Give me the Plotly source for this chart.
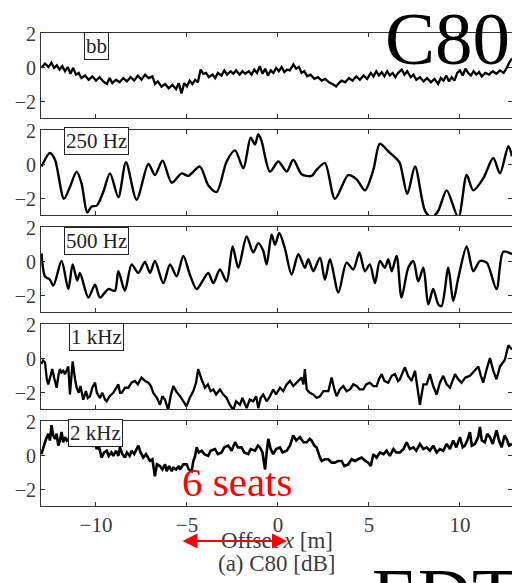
import plotly.graph_objects as go

# ---------------- data ----------------
bb_points = [(-13.0, 0.0), (-12.8, 0.25), (-12.6, 0.05), (-12.45, 0.3), (-12.3, 0.0), (-12.15, 0.15), (-12.0, -0.1), (-11.85, 0.1), (-11.7, -0.2), (-11.55, 0.05),
             (-11.4, -0.35), (-11.25, 0.0), (-11.1, -0.4), (-10.95, -0.3), (-10.8, -0.6), (-10.6, -0.45), (-10.4, -0.7), (-10.2, -0.5), (-10.0, -0.75), (-9.8, -0.55),
             (-9.6, -0.8), (-9.4, -0.95), (-9.25, -0.6), (-9.1, -0.9), (-8.9, -0.7), (-8.7, -0.85), (-8.5, -0.6), (-8.3, -0.8), (-8.1, -0.55), (-7.9, -0.75),
             (-7.7, -0.45), (-7.5, -0.7), (-7.3, -0.4), (-7.1, -0.6), (-6.9, -0.5), (-6.75, -0.95), (-6.6, -0.8), (-6.4, -1.1), (-6.2, -0.95), (-6.0, -1.2),
             (-5.8, -1.0), (-5.6, -1.25), (-5.45, -0.9), (-5.3, -1.5), (-5.15, -0.9), (-5.0, -1.1), (-4.85, -0.75), (-4.7, -0.95), (-4.55, -0.7), (-4.4, -0.85),
             (-4.25, -0.1), (-4.1, -0.35), (-3.95, -0.3), (-3.8, -0.55), (-3.6, -0.4), (-3.45, -0.6), (-3.3, -0.3), (-3.1, -0.45), (-2.95, -0.15), (-2.8, -0.4),
             (-2.6, -0.2), (-2.45, -0.35), (-2.3, -0.15), (-2.1, -0.4), (-1.95, -0.2), (-1.8, -0.35), (-1.6, -0.2), (-1.45, -0.4), (-1.3, -0.1), (-1.15, -0.3),
             (-1.0, 0.1), (-0.85, -0.35), (-0.7, -0.05), (-0.55, -0.45), (-0.4, -0.15), (-0.25, -0.3), (-0.1, 0.0), (0.05, -0.2), (0.2, 0.05), (0.35, -0.25),
             (0.5, -0.1), (0.65, -0.15), (0.85, 0.2), (1.0, -0.05), (1.15, 0.05), (1.3, -0.3), (1.45, -0.2), (1.6, -0.5), (1.8, -0.4), (2.0, -0.65),
             (2.2, -0.55), (2.4, -0.75), (2.6, -0.65), (2.8, -0.85), (3.0, -0.95), (3.2, -1.1), (3.35, -0.9), (3.5, -0.75), (3.7, -0.85), (3.9, -0.6),
             (4.1, -0.75), (4.3, -0.5), (4.5, -0.7), (4.7, -0.45), (4.9, -0.65), (5.1, -0.3), (5.25, -0.5), (5.4, -0.2), (5.55, -0.45), (5.7, -0.25),
             (5.85, -0.5), (6.0, -0.2), (6.15, -0.45), (6.3, -0.3), (6.45, -0.55), (6.6, -0.3), (6.8, -0.1), (6.95, -0.4), (7.1, -0.2), (7.3, -0.55),
             (7.45, -0.4), (7.6, -0.7), (7.8, -0.55), (8.0, -0.8), (8.2, -0.6), (8.4, -0.85), (8.6, -0.65), (8.8, -0.95), (8.95, -0.6), (9.1, -0.75),
             (9.25, -0.45), (9.4, -0.8), (9.55, -0.55), (9.7, -0.75), (9.85, -0.3), (10.0, -0.15), (10.15, -0.45), (10.3, -0.05), (10.45, -0.3), (10.6, -0.45),
             (10.75, -0.2), (10.9, -0.4), (11.05, -0.25), (11.2, -0.5), (11.4, -0.3), (11.6, -0.4), (11.8, -0.2), (12.0, -0.35), (12.2, -0.15), (12.4, -0.3),
             (12.55, -0.05), (12.7, 0.3), (12.86, 0.55)]

x_250 = [-12.99, -12.53, -12.25, -11.76, -11.43, -11.06, -10.79, -10.48, -10.24, -9.96,
         -9.60, -9.23, -8.77, -8.35, -7.77, -7.12, -6.76, -6.34, -5.84, -5.29,
         -4.93, -4.29, -3.83, -3.37, -2.82, -2.36, -1.90, -1.50, -1.26, -1.08,
         -0.90, -0.44, 0.02, 0.48, 0.84, 1.30, 1.85, 2.12, 2.58, 3.13,
         3.86, 4.32, 4.78, 5.24, 5.60, 6.06, 6.52, 6.70, 7.11, 7.53,
         8.08, 8.44, 8.81, 9.27, 9.91, 10.37, 10.73, 11.28, 11.83, 12.20,
         12.66, 12.86]
y_250 = [-0.1, 0.7, 0.3, -2.0, -1.3, -0.4, -1.1, -2.8, -2.45, -2.4,
         -1.6, -0.5, -1.9, 0.15, -2.05, 0.05, -0.6, 0.25, -1.05, -0.5,
         -0.65, -0.1, -1.2, -1.6, 0.2, 0.85, -0.2, 1.6, 1.2, 1.8,
         1.4, -0.4, 0.2, -0.4, 0.3, -0.55, -0.65, -0.3, 0.1, -2.0,
         -0.6, -0.85, -1.5, -0.3, 1.25, 0.8, 0.35, 0.1, -1.7, -0.1,
         -2.7, -3.1, -2.7, -1.5, -3.1, -0.6, -1.5, -0.8, 0.4, -0.5,
         1.1, 0.5]

x_500 = [-12.99, -12.80, -12.53, -12.34, -11.89, -11.52, -11.28, -11.03, -10.88, -10.42,
         -10.05, -9.78, -9.32, -8.96, -8.77, -8.41, -8.04, -7.67, -7.31, -7.03,
         -6.76, -6.30, -5.93, -5.57, -5.20, -4.84, -4.47, -4.10, -3.83, -3.55,
         -3.19, -2.82, -2.49, -2.18, -1.72, -1.36, -1.08, -0.81, -0.62, -0.35,
         -0.16, 0.07, 0.38, 0.75, 1.12, 1.48, 1.67, 1.94, 2.31, 2.58,
         2.86, 3.32, 3.77, 4.14, 4.47, 4.78, 5.05, 5.33, 5.60, 5.88,
         6.06, 6.25, 6.52, 6.79, 7.16, 7.44, 7.71, 7.99, 8.26, 8.53,
         8.81, 8.99, 9.36, 9.63, 9.91, 10.37, 10.73, 11.10, 11.47, 12.01,
         12.38, 12.86]
y_500 = [0.5, -0.85, -1.05, -1.4, 0.05, -1.6, -0.15, -1.1, -0.65, -2.1,
         -1.35, -2.1, -1.6, -1.7, -0.55, -1.7, -0.15, -0.65, 0.0, -0.65,
         0.05, -1.25, -0.15, -0.85, 0.35, -0.75, -1.6, -1.05, -0.65, -1.25,
         -0.45, -1.15, 0.9, -0.35, 1.5, 0.55, 1.1, 0.65, -0.15, 1.6,
         1.0, 1.7, 0.8, -0.75, 0.45, -0.35, 0.15, -0.55, 0.25, -1.05,
         0.15, -1.8, -0.05, -0.45, 0.55, -0.55, -0.15, -1.25, 0.05, -0.35,
         0.15, -0.55, 0.35, -2.1, -0.35, 0.05, -1.15, -0.35, -2.5, -1.6,
         -2.5, -2.6, -0.35, -2.3, -0.95, 0.9, -0.55, 0.05, -0.05, -1.6,
         0.6, 0.45]

k1_points = [(-13.0, -0.3), (-12.9, -0.1), (-12.8, -0.2), (-12.7, -1.2), (-12.62, -1.5), (-12.5, -0.9), (-12.4, -0.6), (-12.3, -1.1), (-12.16, -1.7), (-12.05, -0.9),
             (-11.98, -0.6), (-11.9, -0.8), (-11.8, -0.7), (-11.7, -0.9), (-11.6, -0.6), (-11.52, -0.45), (-11.43, -2.1), (-11.33, -0.4), (-11.28, -0.15), (-11.15, -1.2),
             (-11.06, -1.7), (-10.95, -2.0), (-10.85, -1.6), (-10.7, -2.4), (-10.55, -1.9), (-10.45, -2.3), (-10.33, -2.2), (-10.2, -1.7), (-10.05, -1.4), (-9.95, -2.0),
             (-9.78, -2.3), (-9.65, -2.0), (-9.5, -2.4), (-9.41, -2.5), (-9.25, -2.2), (-9.05, -2.0), (-8.9, -1.7), (-8.77, -1.5), (-8.68, -2.0), (-8.59, -2.0),
             (-8.4, -1.7), (-8.22, -1.7), (-8.05, -1.4), (-7.86, -1.3), (-7.7, -1.5), (-7.5, -1.1), (-7.3, -1.3), (-7.12, -1.4), (-6.98, -1.6), (-6.85, -2.0),
             (-6.65, -2.3), (-6.48, -2.7), (-6.35, -2.2), (-6.21, -2.4), (-6.03, -3.0), (-5.9, -2.2), (-5.75, -1.6), (-5.6, -1.9), (-5.38, -2.2), (-5.2, -2.5),
             (-5.02, -2.8), (-4.85, -2.3), (-4.65, -1.9), (-4.5, -1.4), (-4.38, -0.6), (-4.2, -1.2), (-4.01, -1.7), (-3.85, -1.5), (-3.7, -1.9), (-3.55, -1.8),
             (-3.4, -2.1), (-3.19, -1.8), (-3.0, -2.1), (-2.82, -2.3), (-2.65, -2.7), (-2.45, -3.0), (-2.3, -2.5), (-2.09, -2.7), (-1.95, -2.3), (-1.72, -2.9),
             (-1.55, -2.4), (-1.36, -2.5), (-1.2, -2.2), (-1.08, -2.9), (-0.95, -2.3), (-0.81, -2.1), (-0.62, -2.5), (-0.44, -2.2), (-0.26, -1.8), (-0.1, -2.1),
             (0.11, -1.7), (0.29, -1.9), (0.48, -1.5), (0.66, -1.3), (0.84, -1.6), (1.03, -1.4), (1.2, -1.2), (1.3, -1.1), (1.4, -1.5), (1.48, -0.6),
             (1.58, -1.8), (1.75, -2.0), (1.94, -2.1), (2.12, -2.3), (2.31, -2.2), (2.5, -1.9), (2.77, -1.9), (2.86, -1.4), (2.95, -1.1), (3.1, -1.8),
             (3.22, -2.2), (3.4, -1.8), (3.59, -1.6), (3.77, -1.9), (3.96, -1.8), (4.14, -1.5), (4.32, -1.6), (4.5, -1.8), (4.69, -1.8), (4.85, -1.5),
             (5.05, -1.4), (5.24, -1.6), (5.42, -1.6), (5.55, -1.2), (5.7, -0.9), (5.85, -1.3), (6.06, -1.4), (6.25, -1.0), (6.43, -0.9), (6.6, -1.3),
             (6.7, -1.2), (6.85, -0.8), (6.98, -0.5), (7.15, -1.0), (7.34, -1.3), (7.53, -0.7), (7.65, -1.5), (7.8, -2.7), (7.99, -1.5), (8.17, -1.5),
             (8.35, -0.9), (8.53, -1.6), (8.72, -2.1), (8.9, -1.4), (9.08, -1.0), (9.27, -1.5), (9.45, -1.7), (9.6, -1.2), (9.73, -0.9), (9.9, -1.2),
             (10.09, -1.4), (10.3, -1.1), (10.55, -1.0), (10.8, -0.7), (11.01, -0.45), (11.15, -1.0), (11.28, -1.4), (11.47, -0.6), (11.65, 0.05), (11.83, -0.7),
             (12.01, -1.2), (12.2, -0.45), (12.38, -0.2), (12.47, -0.05), (12.66, 0.8), (12.86, 0.55)]

k2_points = [(-13.0, 0.1), (-12.9, 0.5), (-12.8, 0.8), (-12.7, 1.1), (-12.62, 1.3), (-12.53, 0.9), (-12.44, 1.8), (-12.35, 1.2), (-12.25, 1.0), (-12.16, 1.3),
             (-12.07, 0.6), (-11.98, 0.9), (-11.89, 1.4), (-11.8, 0.8), (-11.7, 1.1), (-11.6, 0.9), (-11.5, 1.0), (-11.4, 0.8), (-11.28, 1.0), (-11.15, 0.8),
             (-11.03, 0.95), (-10.9, 0.7), (-10.79, 0.9), (-10.66, 0.75), (-10.5, 0.9), (-10.4, 0.6), (-10.3, 0.85), (-10.15, 0.6), (-10.05, 0.7), (-9.96, 0.4),
             (-9.85, 0.6), (-9.69, -0.1), (-9.55, 0.2), (-9.41, 0.3), (-9.3, 0.0), (-9.15, 0.2), (-9.05, 0.0), (-8.9, 0.3), (-8.77, 0.0), (-8.68, 0.5),
             (-8.55, 0.1), (-8.41, -0.1), (-8.3, 0.2), (-8.15, 0.0), (-8.04, 0.3), (-7.9, 0.1), (-7.77, 0.4), (-7.67, 0.6), (-7.55, 0.2), (-7.4, -0.1),
             (-7.25, 0.1), (-7.03, -0.3), (-6.9, -0.2), (-6.76, -1.2), (-6.65, -0.5), (-6.48, -0.6), (-6.35, -0.8), (-6.2, -0.5), (-6.12, -0.9), (-5.98, -0.6),
             (-5.84, -0.9), (-5.75, -0.7), (-5.6, -0.8), (-5.45, -0.6), (-5.38, -0.8), (-5.2, -0.5), (-5.02, -0.5), (-4.9, -0.8), (-4.74, -0.9), (-4.65, -0.3),
             (-4.55, 0.0), (-4.47, 0.5), (-4.35, 0.2), (-4.19, 0.3), (-4.05, 0.1), (-3.83, 0.0), (-3.7, 0.3), (-3.46, 0.4), (-3.3, 0.1), (-3.1, 0.2),
             (-2.95, 0.5), (-2.73, 0.6), (-2.55, 0.3), (-2.36, 0.8), (-2.2, 0.5), (-2.0, 0.5), (-1.85, 0.2), (-1.63, 0.1), (-1.5, 0.4), (-1.26, 0.3),
             (-1.1, 0.6), (-0.99, 0.5), (-0.85, 0.2), (-0.71, -0.8), (-0.62, 0.2), (-0.53, 1.0), (-0.4, 0.4), (-0.26, 0.1), (-0.1, 0.4), (0.11, 0.5),
             (0.25, 0.2), (0.48, 0.3), (0.66, 0.6), (0.84, 1.2), (1.0, 0.9), (1.21, 1.1), (1.4, 0.8), (1.58, 0.8), (1.75, 1.0), (1.85, 0.9),
             (2.0, 0.6), (2.12, 0.5), (2.31, -0.1), (2.4, -0.3), (2.58, -0.2), (2.77, -0.2), (2.95, -0.4), (3.13, -0.4), (3.3, -0.3), (3.5, -0.3),
             (3.65, -0.6), (3.86, -0.5), (4.05, -0.2), (4.23, -0.3), (4.4, -0.2), (4.6, -0.1), (4.8, -0.3), (4.96, -0.4), (5.1, -0.6), (5.24, 0.1),
             (5.42, -0.1), (5.6, 0.2), (5.8, 0.1), (5.97, 0.3), (6.15, 0.0), (6.34, 0.4), (6.5, 0.2), (6.7, 0.2), (6.9, 0.4), (7.07, 0.8),
             (7.25, 0.4), (7.44, 0.5), (7.6, 0.3), (7.8, 0.7), (7.99, 0.4), (8.17, 0.5), (8.35, 0.3), (8.53, 0.6), (8.72, 0.2), (8.9, 0.4),
             (9.08, 0.3), (9.27, 0.7), (9.45, 0.4), (9.63, 0.9), (9.8, 0.5), (10.0, 1.1), (10.15, 0.5), (10.27, 0.6), (10.4, 0.9), (10.55, 1.4),
             (10.65, 0.6), (10.82, 0.7), (11.0, 1.1), (11.1, 1.7), (11.2, 0.9), (11.37, 0.8), (11.5, 1.3), (11.65, 1.1), (11.8, 0.7), (12.01, 1.5),
             (12.15, 0.9), (12.29, 0.5), (12.45, 1.2), (12.56, 1.0), (12.7, 0.6), (12.86, 0.7)]

panel_labels = ["bb", "250 Hz", "500 Hz", "1 kHz", "2 kHz"]
x_ticks = [-10, -5, 0, 5, 10]
y_ticks = [-2, 0, 2]
y_tick_text = ["\u22122", "0", "2"]

series = [
    ([p[0] for p in bb_points], [p[1] for p in bb_points], "linear", 2.3),
    (x_250, y_250, "spline", 2.4),
    (x_500, y_500, "spline", 2.4),
    ([p[0] for p in k1_points], [p[1] for p in k1_points], "linear", 2.3),
    ([p[0] for p in k2_points], [p[1] for p in k2_points], "linear", 2.6),
]

# ---------------- figure ----------------
W, H = 512, 583
SERIF = "Liberation Serif, Times New Roman, serif"
AX_COL = "#333333"
TXT_COL = "#3c3c3c"

def py(p):
    return 1 - p / H

fig = go.Figure()
layout = dict(width=W, height=H, margin=dict(l=0, r=0, t=0, b=0, autoexpand=False),
              paper_bgcolor="white", plot_bgcolor="white", showlegend=False,
              font=dict(family=SERIF, color=TXT_COL))

annotations = []
for i, ((xs, ys, shape, lw), lab) in enumerate(zip(series, panel_labels)):
    n = i + 1
    xa = "x" if n == 1 else f"x{n}"
    ya = "y" if n == 1 else f"y{n}"
    fig.add_trace(go.Scatter(x=xs, y=ys, mode="lines", xaxis=xa, yaxis=ya,
                             line=dict(color="black", width=lw, shape=shape, smoothing=0.8),
                             hoverinfo="skip"))
    top = 33 + 97 * i
    bot = 118 + 97 * i
    layout[f"xaxis{n}"] = dict(domain=[41 / W, 1.0], range=[-13.02, 12.86], anchor=ya,
                               tickvals=x_ticks, ticks="inside", ticklen=4, tickcolor=AX_COL,
                               showline=True, linecolor=AX_COL, linewidth=1, mirror="ticks",
                               showgrid=False, zeroline=False, showticklabels=(n == 5),
                               tickfont=dict(family=SERIF, size=21, color=TXT_COL),
                               automargin=False, fixedrange=True)
    layout[f"yaxis{n}"] = dict(domain=[py(bot), py(top)], range=[-2.95, 2.05], anchor=xa,
                               tickvals=y_ticks, ticktext=y_tick_text, ticks="inside", ticklen=4,
                               tickcolor=AX_COL, showline=True, linecolor=AX_COL, linewidth=1,
                               mirror="ticks", showgrid=False, zeroline=False,
                               tickfont=dict(family=SERIF, size=20, color=TXT_COL),
                               automargin=False, fixedrange=True)

label_pos = [(96, 46), (96, 141), (96, 241), (96, 337), (95.5, 433)]
for lab, (lx, ly) in zip(panel_labels, label_pos):
    annotations.append(dict(xref="paper", yref="paper", x=lx / W, y=py(ly), text=lab,
                            showarrow=False, xanchor="center", yanchor="middle",
                            font=dict(family=SERIF, size=21, color="#222222"),
                            bordercolor="#222222", borderwidth=1, borderpad=1, bgcolor="white"))

# big titles
annotations.append(dict(xref="paper", yref="paper", x=383 / W, y=py(38), text="C80",
                        showarrow=False, xanchor="left", yanchor="middle",
                        font=dict(family=SERIF, size=75, color="black")))
annotations.append(dict(xref="paper", yref="paper", x=370 / W, y=py(594), text="EDT",
                        showarrow=False, xanchor="left", yanchor="middle",
                        font=dict(family=SERIF, size=75, color="black")))
# red text and arrow
annotations.append(dict(xref="paper", yref="paper", x=180 / W, y=py(482), text="6 seats",
                        showarrow=False, xanchor="left", yanchor="middle",
                        font=dict(family=SERIF, size=41, color="#ff0000")))
annotations.append(dict(xref="paper", yref="paper", x=277 / W, y=py(540),
                        text="Offset <i>x</i> [m]", showarrow=False, xanchor="center",
                        yanchor="middle", font=dict(family=SERIF, size=23, color=TXT_COL)))
annotations.append(dict(xref="paper", yref="paper", x=277 / W, y=py(563),
                        text="(a) C80 [dB]", showarrow=False, xanchor="center",
                        yanchor="middle", font=dict(family=SERIF, size=23, color=TXT_COL)))
annotations.append(dict(xref="paper", yref="paper", x=287 / W, y=py(541), text="",
                        showarrow=True, ax=-106, ay=0, arrowside="end+start", arrowhead=2,
                        startarrowhead=2, arrowsize=1.5, startarrowsize=1.5, arrowwidth=2,
                        arrowcolor="#ff0000"))

layout["annotations"] = annotations
fig.update_layout(**layout)
fig.write_html("out.html", config={"displayModeBar": False},
               post_script="document.body.style.margin='0';document.body.style.overflow='hidden';")
